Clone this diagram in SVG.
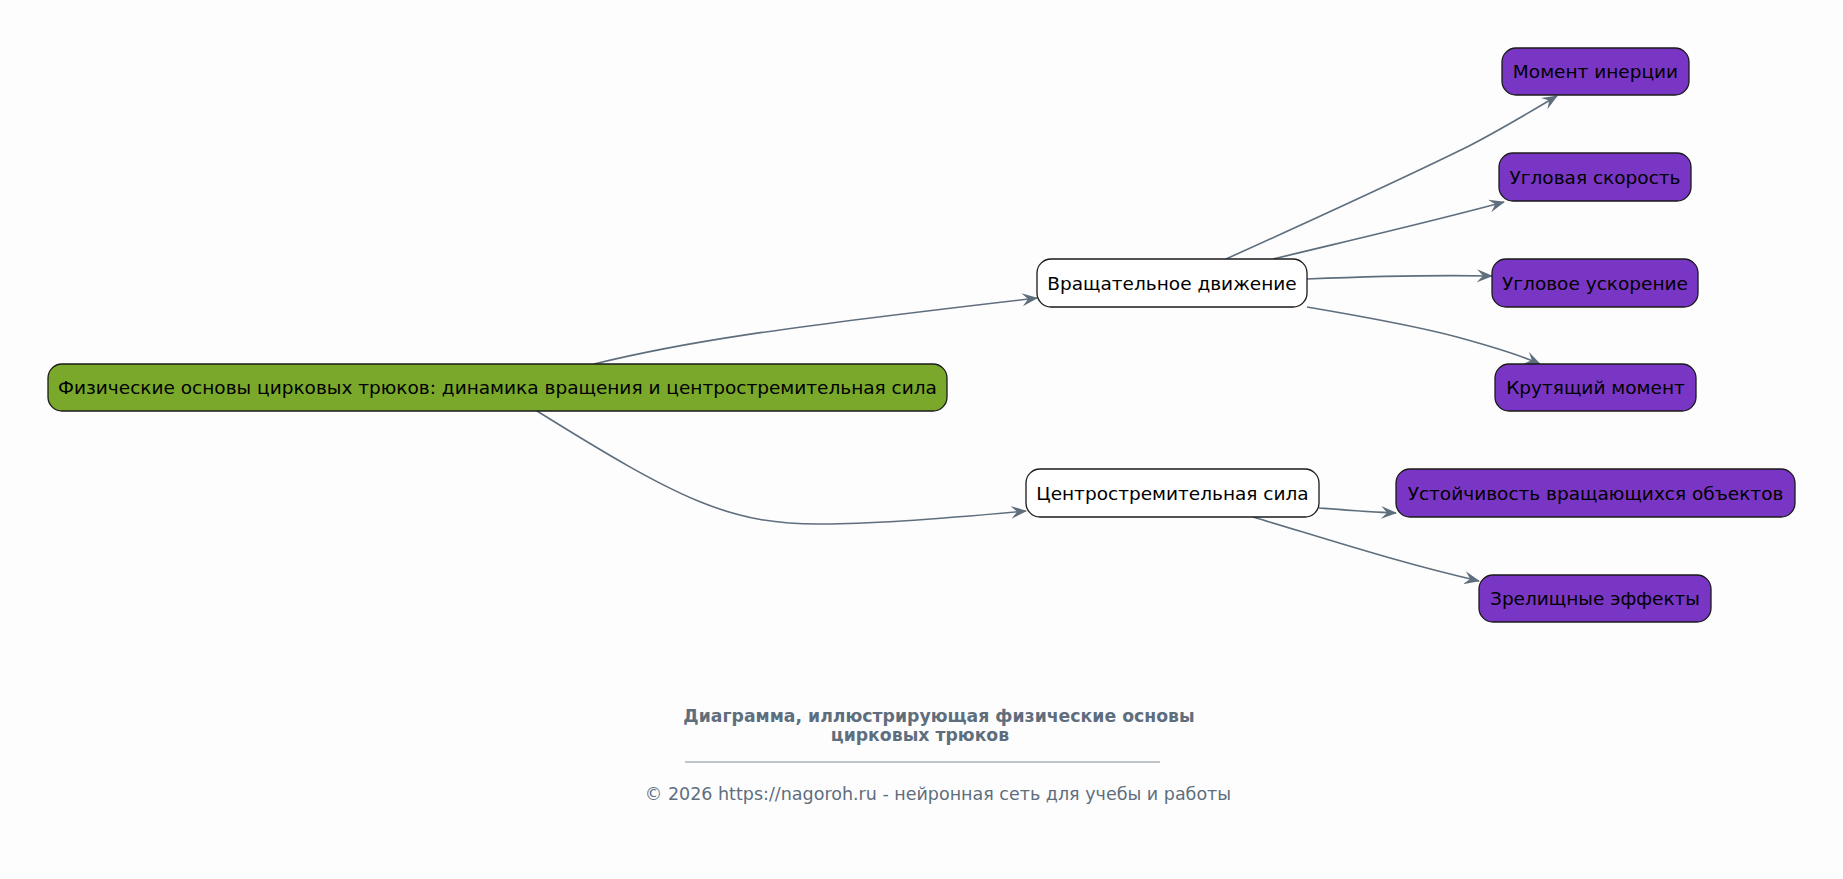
<svg xmlns="http://www.w3.org/2000/svg" width="1843" height="879" viewBox="0 0 1843 879">
<style>
.n rect{stroke:#1a1a1a;stroke-width:1.3}
.n text{font-family:"DejaVu Sans",sans-serif;font-size:18.5px;fill:#000;text-anchor:middle;dominant-baseline:central}
.root rect{fill:#79a82b}
.mid rect{fill:#ffffff}
.leaf rect{fill:#7936c4}
.e path{fill:none;stroke:#5f6e7d;stroke-width:1.6}
.ft{font-family:"DejaVu Sans",sans-serif;fill:#5f6e7d;text-anchor:middle}
</style>
<defs>
<marker id="ah" viewBox="0 0 16 14" refX="15" refY="7" markerWidth="16" markerHeight="14" markerUnits="userSpaceOnUse" orient="auto">
<path d="M0,0.5 L16,7 L0,13.5 L6,7 Z" fill="#5f6e7d"/>
</marker>
</defs>
<rect width="1843" height="879" fill="#fdfdfd"/>
<g class="e">
<path d="M594,364 C680,343 760,330 1037,298" marker-end="url(#ah)"/>
<path d="M537,411 C680,500 730,525 823,524 C880,524 950,518 1026,511" marker-end="url(#ah)"/>
<path d="M1226,259 C1330,212 1400,180 1469,146 C1500,130 1530,112 1557,96" marker-end="url(#ah)"/>
<path d="M1273,259 C1360,238 1430,222 1504,202" marker-end="url(#ah)"/>
<path d="M1307,279 C1380,276 1440,275 1492,276" marker-end="url(#ah)"/>
<path d="M1307,307 C1360,316 1420,327 1457,337 C1490,346 1520,355 1540,364" marker-end="url(#ah)"/>
<path d="M1319,508 C1345,510 1370,512 1396,513" marker-end="url(#ah)"/>
<path d="M1253,517 C1330,540 1400,563 1479,581" marker-end="url(#ah)"/>
</g>
<g id="root" class="n root"><rect x="48" y="364" width="899" height="47" rx="14"/><text x="497.5" y="387.5">Физические основы цирковых трюков: динамика вращения и центростремительная сила</text></g>
<g id="rot" class="n mid"><rect x="1037" y="259" width="270" height="48" rx="14"/><text x="1172" y="283">Вращательное движение</text></g>
<g id="cent" class="n mid"><rect x="1026" y="469" width="293" height="48" rx="14"/><text x="1172.5" y="493">Центростремительная сила</text></g>
<g id="l1" class="n leaf"><rect x="1502" y="48" width="187" height="47" rx="14"/><text x="1595.5" y="71.5">Момент инерции</text></g>
<g id="l2" class="n leaf"><rect x="1499" y="153" width="192" height="48" rx="14"/><text x="1595" y="177">Угловая скорость</text></g>
<g id="l3" class="n leaf"><rect x="1492" y="259" width="206" height="48" rx="14"/><text x="1595" y="283">Угловое ускорение</text></g>
<g id="l4" class="n leaf"><rect x="1495" y="364" width="201" height="47" rx="14"/><text x="1595.5" y="387.5">Крутящий момент</text></g>
<g id="l5" class="n leaf"><rect x="1396" y="469" width="399" height="48" rx="14"/><text x="1595.5" y="493">Устойчивость вращающихся объектов</text></g>
<g id="l6" class="n leaf"><rect x="1479" y="575" width="232" height="47" rx="14"/><text x="1595" y="598.5">Зрелищные эффекты</text></g>
<g id="footer">
<text class="ft" x="939" y="722" font-size="17.3" font-weight="bold">Диаграмма, иллюстрирующая физические основы</text>
<text class="ft" x="920" y="741" font-size="17.3" font-weight="bold">цирковых трюков</text>
<line x1="685" y1="762" x2="1160" y2="762" stroke="#5f6e7d" stroke-width="0.8"/>
<text class="ft" x="938" y="800" font-size="17.5">© 2026 https://nagoroh.ru - нейронная сеть для учебы и работы</text>
</g>
</svg>
